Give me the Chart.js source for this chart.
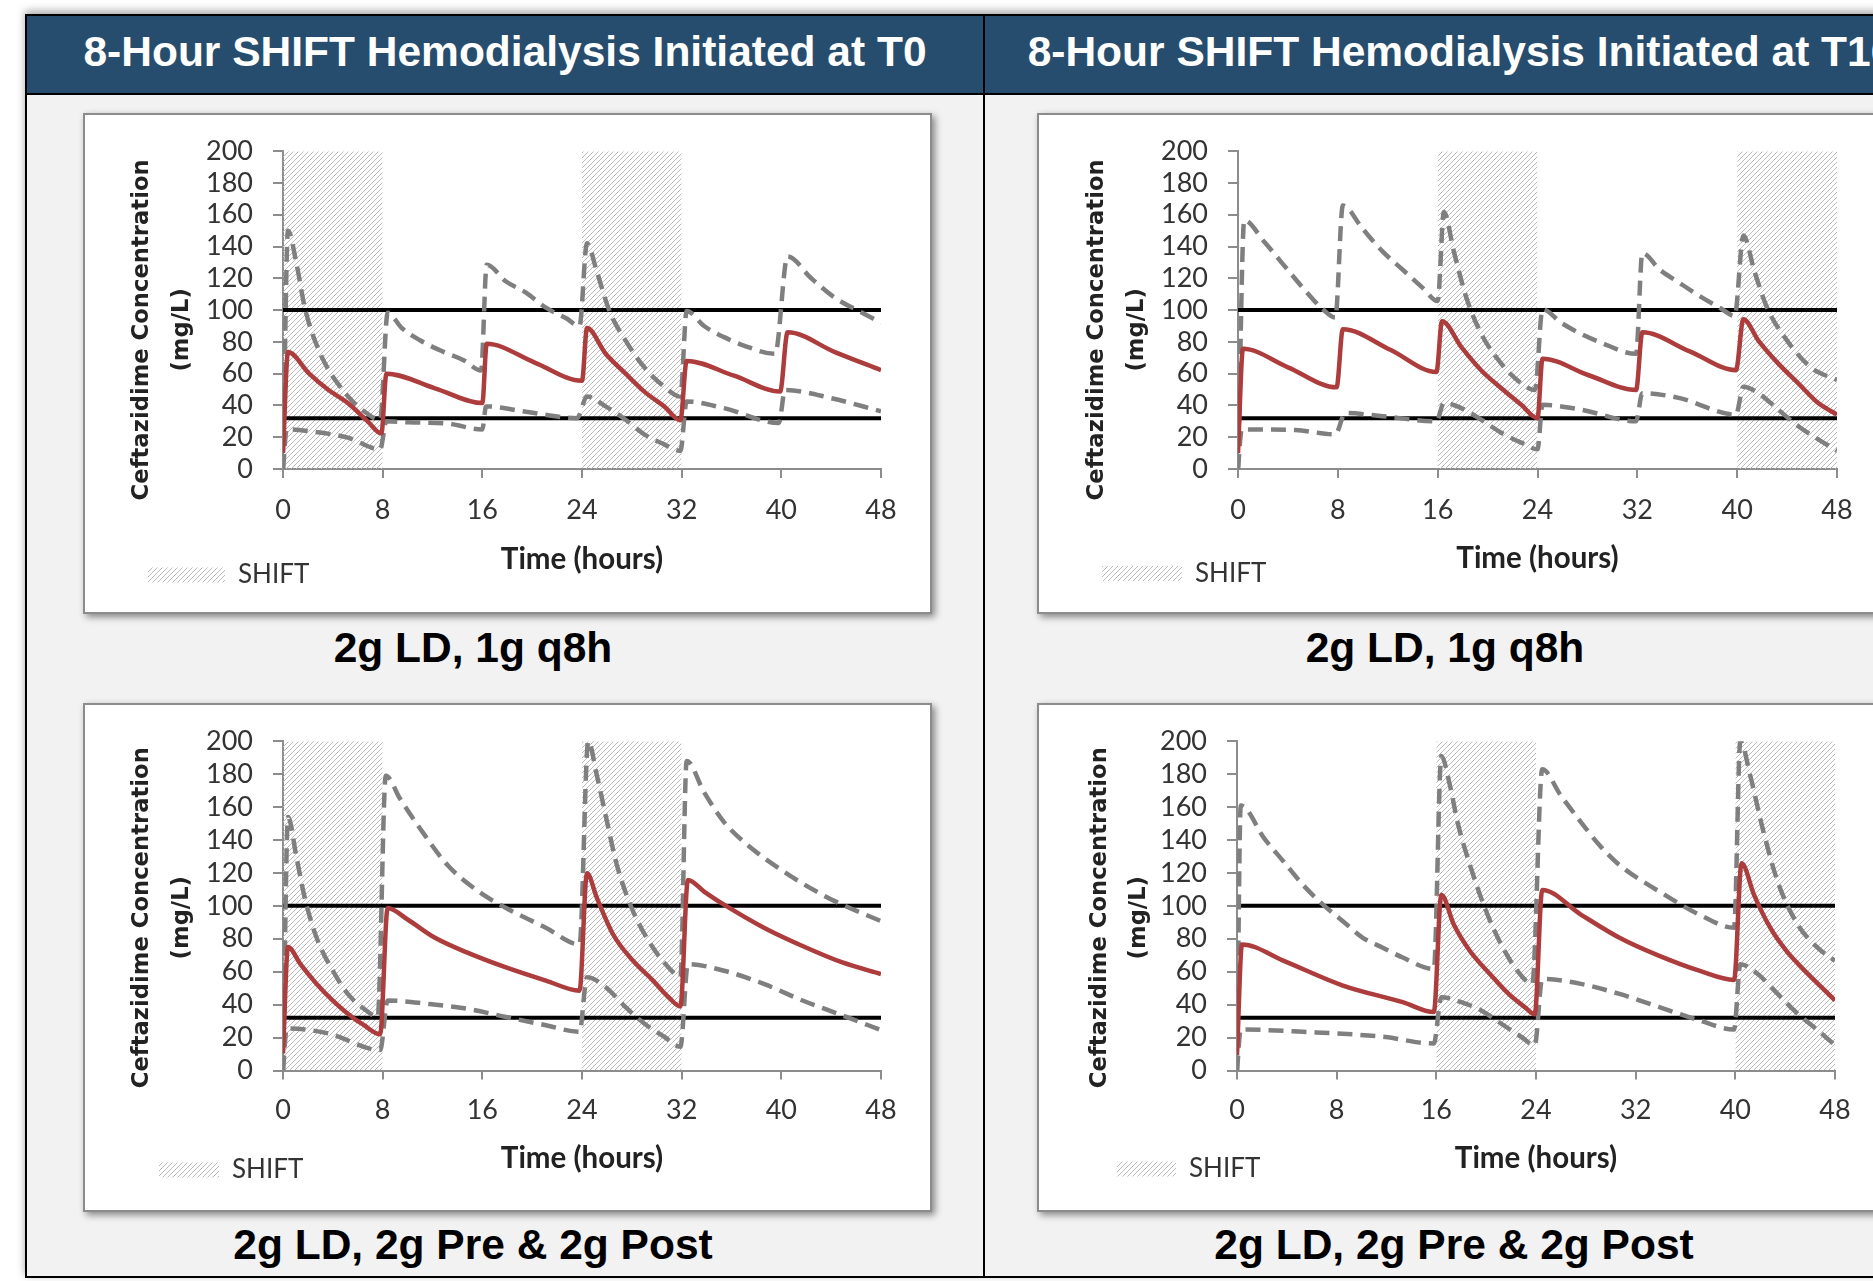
<!DOCTYPE html>
<html lang="en">
<head>
    <meta charset="UTF-8">
    <title>8-Hour SHIFT Hemodialysis - Ceftazidime</title>
    <script src="https://cdn.jsdelivr.net/npm/chart.js"></script>
    <style>
        body {
            margin: 0;
            width: 1873px;
            height: 1281px;
            overflow: hidden;
            background: #fff;
            position: relative;
            font-family: 'Liberation Sans', Arial, sans-serif;
        }
        #frame {
            position: absolute;
            left: 25px; top: 14px;
            width: 1960px; height: 1264px;
            box-sizing: border-box;
            border: 2px solid #000;
            background: #f2f2f2;
            box-shadow: 0 -3px 8px rgba(0, 0, 0, 0.35);
        }
        #band {
            position: absolute;
            left: 27px; top: 16px;
            width: 1960px; height: 77px;
            background: #264d6e;
            border-bottom: 2px solid #000;
        }
        #divider {
            position: absolute;
            left: 983px; top: 14px;
            width: 2px; height: 1264px;
            background: #000;
        }
        .hdr {
            position: absolute;
            top: 16px; height: 77px;
            line-height: 72px;
            color: #fff;
            font-weight: bold;
            font-size: 42.5px;
            text-align: center;
            white-space: nowrap;
        }
        .sub {
            position: absolute;
            width: 700px;
            line-height: 50px;
            font-weight: bold;
            font-size: 42.5px;
            color: #000;
            text-align: center;
            white-space: nowrap;
        }
        .box {
            position: absolute;
            box-sizing: border-box;
            background: #fff;
            border: 2px solid #8c8c8c;
            box-shadow: 3px 3px 7px rgba(0, 0, 0, 0.45);
        }
        .box canvas { position: absolute; left: 0; top: 0; }
    </style>
</head>
<body>
    <div id="frame"></div>
    <div id="band"></div>
    <div id="divider"></div>
    <div class="hdr" style="left:27px; width:956px;">8-Hour SHIFT Hemodialysis Initiated at T0</div>
    <div class="hdr" style="left:995px; width:932px;">8-Hour SHIFT Hemodialysis Initiated at T16</div>

    <div class="box" style="left:83px; top:113px; width:849px; height:501px;"><canvas id="c1" width="845" height="497"></canvas></div>
    <div class="box" style="left:1037px; top:113px; width:851px; height:501px;"><canvas id="c2" width="847" height="497"></canvas></div>
    <div class="box" style="left:83px; top:703px; width:849px; height:509px;"><canvas id="c3" width="845" height="505"></canvas></div>
    <div class="box" style="left:1037px; top:703px; width:851px; height:509px;"><canvas id="c4" width="847" height="505"></canvas></div>

    <div class="sub" style="left:123px; top:623px;">2g LD, 1g q8h</div>
    <div class="sub" style="left:1095px; top:623px;">2g LD, 1g q8h</div>
    <div class="sub" style="left:123px; top:1220px;">2g LD, 2g Pre &amp; 2g Post</div>
    <div class="sub" style="left:1104px; top:1220px;">2g LD, 2g Pre &amp; 2g Post</div>

    <script>
        // axis ticks
        const xTicks = [0, 8, 16, 24, 32, 40, 48];
        const yTicks = [0, 20, 40, 60, 80, 100, 120, 140, 160, 180, 200];
        const targetLines = [100, 32];

        // SHIFT dialysis windows (hours)
        const t0Shifts = [[0, 8], [24, 32]];
        const t16Shifts = [[16, 24], [40, 48]];

        // [hour, mg/L]
        // T0, 1g q8h
        const t0Q8hMedian = [[0,10],[0.4,73.6],[2.1,60],[3.6,50],[5.2,41.5],[6.8,30],[7.9,22.4],[8.3,60],[12.2,50.8],[16,41.5],[16.35,78.8],[20.2,67],[24,55.5],[24.4,88.7],[25.9,72.5],[27.5,60],[29,48.7],[30.6,39.4],[31.9,30.7],[32.4,68],[36.2,58.7],[39.9,48.7],[40.5,86],[44.3,73.6],[48,62.2]];
        const t0Q8hUpper = [[0,0],[0.4,150],[1.1,128.5],[1.75,101.5],[3,72.5],[4.8,49.7],[6.5,36.3],[7.8,31],[8.4,98.4],[9.5,89],[11,81],[12.8,74],[14.5,68.5],[15.9,62],[16.35,128.5],[17.9,118],[19.5,111],[21.1,101.5],[22.7,95],[23.8,90],[24.4,142],[25.2,124],[26.2,99.5],[27.5,80.8],[29,64],[30.6,51.8],[31.9,45.6],[32.4,99.5],[33.8,90],[35.4,83],[37,77.7],[39.5,72.5],[40.5,133.7],[42.4,120],[44.3,107.8],[46.2,99.5],[48,92]];
        const t0Q8hLower = [[0,0],[0.3,25],[2.1,23.8],[5.2,19.7],[7.8,12.4],[8.3,30],[10.1,29.4],[13.2,28.6],[16,24.9],[16.3,39.4],[19.5,36],[23.6,32],[24.4,45.6],[25.9,39.4],[27.5,31],[29,21.8],[30.6,15.5],[31.9,11.4],[32.4,42.5],[35.4,38.3],[39.8,29],[40.3,49.7],[44,44.6],[48,36.3]];

        // T16, 1g q8h
        const t16Q8hMedian = [[0,10],[0.4,75.6],[4,64],[7.9,51.4],[8.4,88],[12.2,75],[15.9,61],[16.35,93],[17.9,76.7],[19.5,62],[21.1,50.8],[22.7,40.4],[24,32],[24.4,69.4],[28.1,59],[31.9,49.7],[32.4,86],[36.2,74],[39.9,62.2],[40.5,94.3],[41.7,80.8],[43.3,66.3],[44.9,53.9],[46.5,41.5],[48,34.2]];
        const t16Q8hUpper = [[0,0],[0.5,156.5],[2.1,143],[3.65,128.5],[5.2,114],[6.8,100.5],[7.8,95.3],[8.4,165.8],[10,151],[11.6,136.8],[13.2,125.4],[14.8,114],[16,105.7],[16.5,161.7],[17.3,136.8],[18.3,107.8],[19.5,85],[21.1,66.3],[22.7,53.9],[23.8,49.7],[24.4,100.5],[25.9,92],[27.5,85],[29,79.8],[31.9,72.5],[32.4,135.8],[33.8,125.4],[35.4,117],[37,108.8],[38.6,101.5],[39.8,96.4],[40.5,147],[41.4,124],[42.4,101.5],[44,80.8],[45.9,64],[48,56]];
        const t16Q8hLower = [[0,0],[0.3,24.9],[4.6,24.5],[7.8,21.8],[8.6,35.2],[11.6,33.2],[15.9,30],[16.5,41.5],[17.9,38.3],[19.5,31],[21.1,22.8],[22.7,16.6],[24,12.4],[24.4,40.4],[27.5,37.3],[31.9,30],[32.4,47.7],[35.4,44.6],[39.9,34.2],[40.5,51.8],[41.7,47.7],[43.3,37.3],[44.9,26.9],[46.5,18.7],[48,11.4]];

        // T0, 2g pre & 2g post
        const t0PrePostMedian = [[0,10.4],[0.4,75],[1.4,64.6],[2.7,52.6],[4,42.5],[5.2,34.5],[6.5,27.5],[7.8,22],[8.4,98.7],[10,91.7],[12.2,80.6],[14.8,71.6],[17.9,62.6],[21.1,54.6],[23.8,48.5],[24.4,119.8],[25.2,104.7],[26.5,82.6],[28.1,66.6],[29.7,54.6],[30.95,44.5],[31.9,38.9],[32.5,115.7],[33.8,108.7],[35.4,100.7],[38.6,86.7],[41.7,75.6],[44.9,65.6],[48,58.6]];
        const t0PrePostUpper = [[0,0],[0.4,153.9],[1.1,128.8],[1.75,104.7],[2.7,80.6],[4,60.6],[5.2,46.5],[6.5,37.5],[7.6,32.5],[8.25,179],[9.4,165],[11,147],[13.2,124.8],[15.7,108.7],[17.9,98.7],[21.1,86.7],[23.8,76.6],[24.5,200],[25.2,179],[25.9,154.9],[26.8,124.8],[28.1,96.7],[29.7,74.6],[30.95,62.6],[31.9,56.6],[32.4,188],[33.8,169],[35.4,150.9],[37,138.8],[40.2,120.8],[43.3,106.7],[44.9,100.7],[48,90.7]];
        const t0PrePostLower = [[0,0],[0.3,25.5],[3.65,22.5],[7.8,12.4],[8.4,42.5],[11.6,40.5],[14.8,37.5],[17.9,32.5],[21.1,27.5],[23.8,23.5],[24.4,56.6],[25.9,50.6],[27.5,38.5],[29,28.5],[30.6,20.5],[31.9,14.4],[32.5,64.6],[35.4,60.6],[38.6,52.6],[41.7,42.5],[44.9,33.5],[48,24.5]];

        // T16, 2g pre & 2g post
        const t16PrePostMedian = [[0,9.4],[0.4,76.6],[3.75,66.6],[8.5,51.6],[13.3,41.5],[15.8,35.5],[16.4,106.7],[17.4,88.7],[18.7,72.6],[20.3,58.6],[21.8,46.5],[23.1,38.5],[23.9,34.1],[24.5,109.7],[27.6,94.7],[30.7,80.6],[33.9,69.6],[37.1,60.6],[39.9,55],[40.5,125.8],[41.5,106.7],[42.8,86.7],[44.1,72.6],[45.7,59.6],[47.2,48.5],[48,42.5]];
        const t16PrePostUpper = [[0,0],[0.3,160.9],[2.2,140.8],[3.75,126.8],[5.3,112.7],[6.9,100.7],[8.5,90.7],[10.1,80.6],[11.7,74.6],[13.3,68.6],[15.8,61.6],[16.4,191],[17.1,172.9],[17.7,150.9],[18.7,124.8],[20,96.7],[21.2,76.6],[22.5,60.6],[23.7,52.6],[24.5,182.9],[26,166.9],[27.6,150.9],[29.1,136.8],[30.7,124.8],[33.9,108.7],[37.1,94.7],[39.9,86.7],[40.4,200],[41.2,179],[42.2,146.8],[43.4,114.7],[45,88.7],[46.6,74.6],[48,66.6]];
        const t16PrePostLower = [[0,0],[0.3,24.9],[5.3,23.5],[11.7,20.5],[15.8,16.4],[16.4,44.5],[18,41.5],[19.6,36.5],[21.2,28.5],[22.8,20.5],[23.9,15.4],[24.5,55.6],[27.6,52.6],[30.7,46.5],[33.9,38.5],[37.1,30.5],[39.9,24.9],[40.4,64.6],[41.8,58.6],[43.4,46.5],[45,34.5],[46.6,24.5],[48,15.4]];

        const yTitle = ['Ceftazidime Concentration', '(mg/L)'];
        const xTitle = 'Time (hours)';
        const legendLabel = 'SHIFT';

        function hatch(ctx) {
            const c = document.createElement('canvas');
            c.width = 5;
            c.height = 5;
            const g = c.getContext('2d');
            g.strokeStyle = '#bababa';
            g.lineWidth = 1;
            g.beginPath();
            g.moveTo(0, 5); g.lineTo(5, 0);
            g.moveTo(-1, 1); g.lineTo(1, -1);
            g.moveTo(4, 6); g.lineTo(6, 4);
            g.stroke();
            return ctx.createPattern(c, 'repeat');
        }

        const toPts = arr => arr.map(p => ({x: p[0], y: p[1]}));

        // the y title sits a little below the axis middle in the original; trailing blanks push it down
        const nudge = n => yTitle.map(t => t + ' '.repeat(n));

        const panels = [
            {id: 'c1', median: t0Q8hMedian, upper: t0Q8hUpper, lower: t0Q8hLower, shifts: t0Shifts,
             lay: {top: 33, right: 49, left: 63, yw: 135, bottom: 14, xh: 93, xtPad: -15.1, ytPad: -25.8, bw: 77, tickPad: 16, yShift: 5}},
            {id: 'c2', median: t16Q8hMedian, upper: t16Q8hUpper, lower: t16Q8hLower, shifts: t16Shifts,
             lay: {top: 33, right: 49, left: 63, yw: 136, bottom: 15.5, xh: 91.5, xtPad: -15.6, ytPad: -24.8, bw: 80, tickPad: 16, yShift: 5}},
            {id: 'c3', median: t0PrePostMedian, upper: t0PrePostUpper, lower: t0PrePostLower, shifts: t0Shifts,
             lay: {top: 34, right: 49, left: 74, yw: 124, bottom: 17, xh: 86.5, xtPad: -18.9, ytPad: -36.3, bw: 60, tickPad: 15, yShift: 3}},
            {id: 'c4', median: t16PrePostMedian, upper: t16PrePostUpper, lower: t16PrePostLower, shifts: t16Shifts,
             lay: {top: 34, right: 51, left: 78, yw: 120, bottom: 18, xh: 85.5, xtPad: -19.9, ytPad: -37.2, bw: 59, tickPad: 15, yShift: 3}}
        ];

        const axisGray = '#8c8c8c';
        const tickFont = {family: 'Lato', size: 27};

        panels.forEach(p => {
            const ctx = document.getElementById(p.id).getContext('2d');
            const pattern = hatch(ctx);
            const lay = p.lay;
            const line = {pointRadius: 0, tension: 0, fill: false, borderWidth: 4};
            const curve = {...line, cubicInterpolationMode: 'monotone', borderWidth: 4.5};
            const dash = {...curve, borderColor: '#7f7f7f', borderDash: [15, 8], borderCapStyle: 'butt'};

            const datasets = [
                {...curve, label: 'Median', data: toPts(p.median), borderColor: '#ad3c3c'},
                {...dash, label: 'Upper', data: toPts(p.upper)},
                {...dash, label: 'Lower', data: toPts(p.lower)},
                ...targetLines.map(v => ({...line, label: 'Target ' + v, data: [{x: xTicks[0], y: v}, {x: xTicks[xTicks.length - 1], y: v}], borderColor: '#000'}))
            ];
            const firstShift = datasets.length;
            p.shifts.forEach(s => {
                datasets.push({
                    label: legendLabel,
                    data: [{x: s[0], y: yTicks[yTicks.length - 1]}, {x: s[1], y: yTicks[yTicks.length - 1]}],
                    fill: 'origin',
                    backgroundColor: pattern,
                    borderColor: 'rgba(0,0,0,0)',
                    borderWidth: 0,
                    pointRadius: 0,
                    tension: 0
                });
            });

            new Chart(ctx, {
                type: 'line',
                data: {datasets},
                options: {
                    responsive: false,
                    animation: false,
                    layout: {padding: {top: lay.top, right: lay.right, left: lay.left, bottom: lay.bottom}},
                    plugins: {
                        tooltip: {enabled: false},
                        legend: {
                            position: 'bottom',
                            align: 'start',
                            labels: {
                                filter: item => item.datasetIndex === firstShift,
                                boxWidth: lay.bw,
                                boxHeight: 15,
                                padding: 0,
                                color: '#333',
                                font: {family: 'Lato', size: 26}
                            }
                        }
                    },
                    scales: {
                        x: {
                            type: 'linear',
                            min: xTicks[0],
                            max: xTicks[xTicks.length - 1],
                            afterBuildTicks: s => { s.ticks = xTicks.map(v => ({value: v})); },
                            afterFit: s => { s.height = lay.xh; },
                            grid: {drawOnChartArea: false, drawTicks: true, tickLength: 9, color: axisGray, lineWidth: 2},
                            border: {color: axisGray, width: 2},
                            ticks: {font: tickFont, color: '#333', padding: lay.tickPad, maxRotation: 0, autoSkip: false},
                            title: {display: true, text: xTitle, color: '#222',
                                    font: {family: 'Lato', size: 29.5, weight: 'bold'},
                                    padding: {top: 0, bottom: lay.xtPad}}
                        },
                        y: {
                            min: yTicks[0],
                            max: yTicks[yTicks.length - 1],
                            afterBuildTicks: s => { s.ticks = yTicks.map(v => ({value: v})); },
                            afterFit: s => { s.width = lay.yw; },
                            grid: {drawOnChartArea: false, drawTicks: true, tickLength: 10, color: axisGray, lineWidth: 2},
                            border: {color: axisGray, width: 2},
                            ticks: {font: tickFont, color: '#333', padding: 20, autoSkip: false},
                            title: {display: true, text: nudge(lay.yShift), color: '#222',
                                    font: {family: 'DejaVu Sans', size: 22.7, weight: 'bold', lineHeight: 1.75},
                                    padding: {top: lay.ytPad, bottom: 0}}
                        }
                    }
                }
            });
        });
    </script>
</body>
</html>
